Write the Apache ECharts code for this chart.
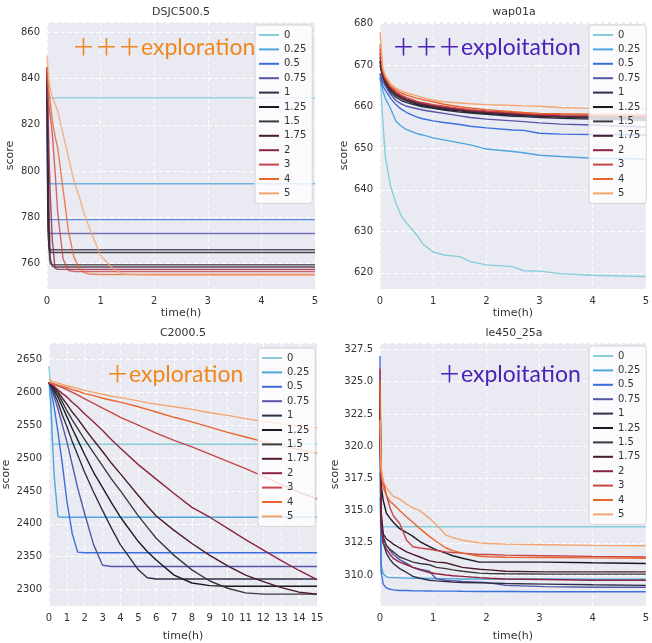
<!DOCTYPE html>
<html>
<head>
<meta charset="utf-8">
<script src="https://cdn.jsdelivr.net/npm/echarts@6/dist/echarts.min.js"></script>
<style>
  html, body { margin: 0; padding: 0; background: #fff; }
  #chart { width: 652px; height: 643px; }
</style>
</head>
<body>
<div id="chart"></div>
<script>
// legend labels (weight values)
var seriesNames = ['0', '0.25', '0.5', '0.75', '1', '1.25', '1.5', '1.75', '2', '3', '4', '5'];

// DSJC500.5
var dsjcTimes = [0, 0.01, 0.02, 0.04, 0.06, 0.1, 0.15, 0.2, 0.3, 0.4, 0.5, 0.6, 0.7, 0.8, 1.0, 1.2, 1.4, 1.6, 2, 3, 4, 5];
var dsjcScores = [
  [834, 832, 831.7, 831.7, 831.7, 831.7, 831.7, 831.7, 831.7, 831.7, 831.7, 831.7, 831.7, 831.7, 831.7, 831.7, 831.7, 831.7, 831.7, 831.7, 831.7, 831.7],
  [840, 815, 800, 794.5, 794.5, 794.5, 794.5, 794.5, 794.5, 794.5, 794.5, 794.5, 794.5, 794.5, 794.5, 794.5, 794.5, 794.5, 794.5, 794.5, 794.5, 794.5],
  [836, 800, 780, 779, 779, 779, 779, 779, 779, 779, 779, 779, 779, 779, 779, 779, 779, 779, 779, 779, 779, 779],
  [832, 790, 775, 773, 773, 773, 773, 773, 773, 773, 773, 773, 773, 773, 773, 773, 773, 773, 773, 773, 773, 773],
  [838, 800, 772, 767, 766, 766, 766, 766, 766, 766, 766, 766, 766, 766, 766, 766, 766, 766, 766, 766, 766, 766],
  [840, 810, 780, 766, 765, 764.8, 764.8, 764.8, 764.8, 764.8, 764.8, 764.8, 764.8, 764.8, 764.8, 764.8, 764.8, 764.8, 764.8, 764.8, 764.8, 764.8],
  [843, 820, 790, 765, 760, 759.5, 759.5, 759.5, 759.5, 759.5, 759.5, 759.5, 759.5, 759.5, 759.5, 759.5, 759.5, 759.5, 759.5, 759.5, 759.5, 759.5],
  [845, 830, 805, 780, 762, 758.8, 758.5, 758.5, 758.5, 758.5, 758.5, 758.5, 758.5, 758.5, 758.5, 758.5, 758.5, 758.5, 758.5, 758.5, 758.5, 758.5],
  [845, 835, 825, 805, 790, 770, 758, 757.5, 757.5, 757.5, 757.5, 757.5, 757.5, 757.5, 757.5, 757.5, 757.5, 757.5, 757.5, 757.5, 757.5, 757.5],
  [842, 838, 832, 828, 824, 816, 800, 782, 762, 757, 756.6, 756.6, 756.6, 756.6, 756.6, 756.6, 756.6, 756.6, 756.6, 756.6, 756.6, 756.6],
  [845, 842, 838, 834, 830, 822, 815, 810, 792, 774, 763, 758, 756, 755.5, 755.3, 755.3, 755.3, 755.3, 755.3, 755.3, 755.3, 755.3],
  [850, 847, 843, 839, 836, 832, 829, 826, 816, 806, 796, 789, 781, 775, 763.5, 758.5, 755.5, 755.2, 755, 755, 755, 755]
];

// wap01a
var wapTimes = [0, 0.05, 0.1, 0.2, 0.3, 0.4, 0.5, 0.7, 0.8, 1.0, 1.2, 1.5, 1.7, 2, 2.5, 2.7, 3, 3.4, 4, 5];
var wapScores = [
  [668, 657, 648, 640.8, 636.8, 633.7, 632, 629, 627, 625, 624.3, 623.9, 622.7, 621.9, 621.5, 620.5, 620.4, 619.8, 619.4, 619.1],
  [667, 664, 662, 659.5, 656.5, 655.3, 654.5, 653.5, 653.2, 652.5, 652, 651.3, 650.8, 649.8, 649.2, 648.9, 648.3, 648.0, 647.6, 647.4],
  [667, 665, 664, 662, 660.5, 659.4, 658.6, 657.5, 657.1, 656.6, 656.2, 655.7, 655.3, 654.9, 654.4, 654.3, 653.6, 653.4, 653.3, 653.2],
  [668, 666, 665, 663, 661.5, 660.7, 660.1, 659.5, 659.2, 658.8, 658.4, 657.8, 657.4, 657.0, 656.6, 656.4, 656.1, 655.8, 655.6, 655.1],
  [670, 667, 665.5, 663.5, 662.3, 661.5, 661.0, 660.3, 660.0, 659.6, 659.2, 658.7, 658.5, 658.2, 657.7, 657.6, 657.4, 657.2, 657.0, 656.7],
  [671, 667.5, 666, 664, 662.8, 662.0, 661.4, 660.6, 660.3, 659.8, 659.4, 659.0, 658.7, 658.4, 658.0, 657.9, 657.7, 657.5, 657.3, 657.0],
  [671, 667.5, 666, 664, 662.8, 662.0, 661.5, 660.8, 660.5, 660.0, 659.6, 659.2, 658.9, 658.6, 658.2, 658.0, 657.8, 657.6, 657.4, 657.2],
  [672, 668, 666.3, 664.3, 663.1, 662.3, 661.7, 661.0, 660.7, 660.2, 659.8, 659.3, 659.0, 658.7, 658.3, 658.1, 657.9, 657.7, 657.6, 657.4],
  [673, 668, 666.5, 664.5, 663.3, 662.5, 661.9, 661.1, 660.8, 660.3, 659.9, 659.4, 659.1, 658.8, 658.4, 658.2, 658.0, 657.8, 657.7, 657.6],
  [674, 668.5, 666.8, 664.8, 663.6, 662.8, 662.2, 661.3, 661.0, 660.5, 660.1, 659.6, 659.3, 659.0, 658.6, 658.4, 658.2, 658.1, 658.0, 657.9],
  [675, 669, 667, 665, 664, 663.3, 662.8, 662.0, 661.7, 661.2, 660.6, 660.0, 659.7, 659.3, 658.8, 658.6, 658.4, 658.3, 658.2, 658.1],
  [678, 669.5, 667.5, 665.5, 664.5, 663.8, 663.3, 662.6, 662.2, 661.6, 661.2, 660.9, 660.7, 660.5, 660.3, 660.2, 660.1, 659.8, 659.6, 659.5]
];

// C2000.5
var c2000Times = [0, 0.1, 0.2, 0.3, 0.5, 0.75, 1, 1.3, 1.6, 2, 2.5, 3, 3.5, 4, 5, 5.5, 6, 7, 8, 9, 10, 11, 12, 13, 14, 15];
var c2000Scores = [
  [2640, 2600, 2521, 2521, 2521, 2521, 2521, 2521, 2521, 2521, 2521, 2521, 2521, 2521, 2521, 2521, 2521, 2521, 2521, 2521, 2521, 2521, 2521, 2521, 2521, 2521],
  [2615, 2580, 2520, 2470, 2411, 2410, 2410, 2410, 2410, 2410, 2410, 2410, 2410, 2410, 2410, 2410, 2410, 2410, 2410, 2410, 2410, 2410, 2410, 2410, 2410, 2410],
  [2615, 2605, 2590, 2575, 2540, 2490, 2435, 2385, 2357, 2356, 2356, 2356, 2356, 2356, 2356, 2356, 2356, 2356, 2356, 2356, 2356, 2356, 2356, 2356, 2356, 2356],
  [2615, 2608, 2600, 2592, 2575, 2550, 2525, 2490, 2455, 2415, 2368, 2337, 2335, 2335, 2335, 2335, 2335, 2335, 2335, 2335, 2335, 2335, 2335, 2335, 2335, 2335],
  [2615, 2610, 2604, 2598, 2585, 2565, 2548, 2525, 2505, 2478, 2448, 2420, 2393, 2368, 2330, 2318, 2316, 2316, 2316, 2316, 2316, 2316, 2316, 2316, 2316, 2316],
  [2615, 2611, 2607, 2603, 2593, 2578, 2563, 2545, 2528, 2505, 2478, 2455, 2432, 2410, 2373, 2358, 2345, 2322, 2310, 2306, 2305, 2305, 2305, 2305, 2305, 2305],
  [2615, 2612, 2609, 2606, 2598, 2585, 2572, 2558, 2545, 2528, 2508, 2488, 2468, 2450, 2412, 2395, 2378, 2352, 2330, 2313, 2302, 2295, 2293, 2293, 2293, 2293],
  [2615, 2613, 2610, 2607, 2601, 2591, 2582, 2570, 2560, 2545, 2527, 2510, 2492, 2476, 2443, 2427, 2412, 2390, 2370, 2352, 2336, 2322, 2312, 2303, 2296, 2293],
  [2615, 2613, 2611, 2609, 2604, 2598, 2593, 2585, 2578, 2567, 2555, 2542, 2528, 2515, 2490, 2479, 2468, 2446, 2425, 2410, 2393, 2376, 2360, 2344, 2329, 2315],
  [2615, 2614, 2613, 2612, 2610, 2607, 2604, 2600, 2596, 2590, 2583, 2576, 2569, 2562, 2550, 2544, 2538, 2527, 2517, 2506, 2495, 2484, 2472, 2460, 2448, 2438],
  [2615, 2614, 2613, 2612, 2611, 2609, 2607, 2604, 2602, 2598, 2595, 2591, 2588, 2585, 2578, 2574, 2570, 2562, 2555, 2547, 2539, 2532, 2525, 2519, 2513, 2507],
  [2620, 2618, 2616, 2615, 2614, 2612, 2610, 2608, 2606, 2603, 2600, 2597, 2594, 2592, 2587, 2584, 2582, 2578, 2574, 2569, 2565, 2560, 2556, 2552, 2549, 2546]
];

// le450_25a
var leTimes = [0, 0.02, 0.06, 0.12, 0.19, 0.25, 0.37, 0.5, 0.62, 0.75, 0.93, 1.06, 1.24, 1.37, 1.55, 1.87, 2.05, 2.36, 3.1, 4, 5];
var leScores = [
  [316, 313.75, 313.75, 313.75, 313.75, 313.75, 313.75, 313.75, 313.75, 313.75, 313.75, 313.75, 313.75, 313.75, 313.75, 313.75, 313.75, 313.75, 313.75, 313.75, 313.75],
  [318, 310.8, 310.1, 309.86, 309.8, 309.8, 309.78, 309.76, 309.75, 309.75, 309.74, 309.73, 309.72, 309.72, 309.7, 309.7, 309.7, 309.7, 309.7, 309.68, 309.68],
  [327, 310.3, 309.3, 309.0, 308.9, 308.85, 308.8, 308.8, 308.78, 308.77, 308.76, 308.75, 308.75, 308.75, 308.74, 308.73, 308.72, 308.72, 308.7, 308.7, 308.7],
  [326, 314.5, 313.0, 312.3, 311.9, 311.6, 311.2, 310.9, 310.6, 310.45, 310.3, 309.7, 309.6, 309.56, 309.5, 309.45, 309.4, 309.2, 309.1, 309.05, 309.05],
  [325, 314, 312.5, 311.7, 311.2, 310.9, 310.5, 310.2, 309.9, 309.75, 309.6, 309.55, 309.5, 309.45, 309.42, 309.4, 309.38, 309.35, 309.3, 309.25, 309.2],
  [324, 317, 315.8, 314.8, 314.4, 314.1, 313.6, 313.3, 313.0, 312.6, 312.2, 311.95, 311.7, 311.5, 311.3, 311.0, 311.0, 311.0, 311.0, 310.95, 310.9],
  [323, 314.5, 312.9, 312.3, 312.0, 311.8, 311.4, 311.2, 311.0, 310.9, 310.8, 310.6, 310.5, 310.4, 310.3, 310.15, 310.12, 310.1, 310.07, 310.07, 310.07],
  [323, 315, 313.2, 312.8, 312.6, 312.4, 312.1, 311.8, 311.6, 311.4, 311.1, 311.0, 310.95, 310.8, 310.6, 310.45, 310.4, 310.3, 310.25, 310.25, 310.25],
  [322, 314, 312.5, 312.0, 311.6, 311.3, 311.0, 310.8, 310.6, 310.4, 310.2, 310.1, 310.0, 309.95, 309.9, 309.8, 309.75, 309.7, 309.65, 309.6, 309.6],
  [326, 318, 317.3, 316.2, 315.2, 314.6, 314.0, 312.7, 312.2, 312.1, 312.0, 311.9, 311.8, 311.75, 311.7, 311.6, 311.6, 311.55, 311.5, 311.45, 311.4],
  [325, 318, 316.8, 316.2, 315.7, 315.5, 315.0, 314.5, 314.1, 313.6, 313.0, 312.6, 312.1, 311.9, 311.7, 311.46, 311.42, 311.38, 311.36, 311.33, 311.3],
  [322, 318.5, 317.3, 316.8, 316.4, 316.1, 315.9, 315.5, 315.2, 315.0, 314.4, 313.9, 313.1, 312.9, 312.7, 312.5, 312.45, 312.4, 312.35, 312.3, 312.27]
];

// icefire-like palette, one colour per weight
var palette = ['#86cfd9', '#4fa6de', '#3a6fdc', '#5655a8', '#2f2f4a', '#1a1a22',
               '#3c3a40', '#4a1a2c', '#8c2440', '#c8454a', '#e8652e', '#f5a46e'];

var panels = [
  { title: 'DSJC500.5', times: dsjcTimes, scores: dsjcScores,
    grid: { left: 47, top: 22, width: 268, height: 267 },
    yMin: 749, yMax: 864.5, yStep: 20, yDigits: 0, xMax: 5, yGap: 31, xGap: 19,
    legend: { left: 255, top: 25 }, opacity: 0.8,
    note: '＋＋＋exploration', noteColor: '#f0861e', noteX: 72, noteY: 48 },
  { title: 'wap01a', times: wapTimes, scores: wapScores,
    grid: { left: 380, top: 22, width: 268, height: 267 },
    yMin: 616.1, yMax: 680.4, yStep: 10, yDigits: 0, xMax: 5, yGap: 29, xGap: 19,
    legend: { left: 589, top: 25 }, opacity: 1,
    note: '＋＋＋exploitation', noteColor: '#4a22b8', noteX: 392, noteY: 48 },
  { title: 'C2000.5', times: c2000Times, scores: c2000Scores,
    grid: { left: 49, top: 343, width: 268, height: 268 },
    yMin: 2275, yMax: 2675, yStep: 50, yDigits: 0, xMax: 15, yGap: 37, xGap: 25,
    legend: { left: 258, top: 348 }, opacity: 1,
    note: '＋exploration', noteColor: '#f0861e', noteX: 106, noteY: 375 },
  { title: 'le450_25a', times: leTimes, scores: leScores,
    grid: { left: 380, top: 343, width: 268, height: 268 },
    yMin: 307.6, yMax: 328.0, yStep: 2.5, yDigits: 1, xMax: 5, yGap: 38, xGap: 25,
    legend: { left: 589, top: 346 }, opacity: 1,
    note: '＋exploitation', noteColor: '#4a22b8', noteX: 438, noteY: 375 }
];

var tickFont = { color: '#333', fontSize: 10, fontFamily: 'DejaVu Sans' };
var grids = [], xAxes = [], yAxes = [], series = [], legends = [], graphics = [];

panels.forEach(function (p, i) {
  grids.push({ left: p.grid.left, top: p.grid.top, width: p.grid.width, height: p.grid.height,
    show: true, backgroundColor: '#eaeaf2', borderWidth: 0 });
  xAxes.push({
    type: 'value', gridIndex: i, min: 0, max: p.xMax, interval: 1,
    name: 'time(h)', nameLocation: 'middle', nameGap: p.xGap,
    nameTextStyle: { color: '#333', fontSize: 11, fontFamily: 'DejaVu Sans' },
    axisLine: { show: false }, axisTick: { show: false },
    axisLabel: Object.assign({ margin: 7 }, tickFont),
    splitLine: { show: true, lineStyle: { color: '#fff', type: [4, 3], width: 1 } }
  });
  yAxes.push({
    type: 'value', gridIndex: i, min: p.yMin, max: p.yMax,
    minInterval: p.yStep, maxInterval: p.yStep, splitNumber: 8,
    name: 'score', nameLocation: 'middle', nameGap: p.yGap,
    nameTextStyle: { color: '#333', fontSize: 11, fontFamily: 'DejaVu Sans' },
    axisLine: { show: false }, axisTick: { show: false },
    axisLabel: Object.assign({
      margin: 7, showMinLabel: false, showMaxLabel: false,
      formatter: function (v) { return v.toFixed(p.yDigits); }
    }, tickFont),
    splitLine: { show: true, lineStyle: { color: '#fff', type: [4, 3], width: 1 } }
  });
  seriesNames.forEach(function (name, k) {
    series.push({
      type: 'line', name: name, xAxisIndex: i, yAxisIndex: i,
      symbol: 'none', showSymbol: false, animation: false,
      color: palette[k],
      lineStyle: { width: 1.4, opacity: p.opacity },
      data: p.times.map(function (t, j) { return [t, p.scores[k][j]]; })
    });
  });
  legends.push({
    data: seriesNames, orient: 'vertical', left: p.legend.left, top: p.legend.top,
    icon: 'rect', itemWidth: 20, itemHeight: 2, itemGap: 2.4,
    padding: [4, 6, 4, 4],
    backgroundColor: 'rgba(255,255,255,0.8)', borderColor: '#d5d5d5', borderWidth: 1, borderRadius: 3,
    textStyle: { color: '#333', fontSize: 10, lineHeight: 12, fontFamily: 'DejaVu Sans' }
  });
  graphics.push({
    type: 'text', x: p.grid.left + p.grid.width / 2, y: p.grid.top - 10,
    style: { text: p.title, align: 'center', verticalAlign: 'middle',
      font: '11px "DejaVu Sans"', fill: '#333' }
  });
  graphics.push({
    type: 'text', x: p.noteX, y: p.noteY, z: 100,
    style: { text: p.note, align: 'left', verticalAlign: 'middle',
      font: '23px Lato, "Noto Sans CJK SC"', fill: p.noteColor }
  });
});

var chart = echarts.init(document.getElementById('chart'));
chart.setOption({
  animation: false,
  backgroundColor: '#fff',
  grid: grids, xAxis: xAxes, yAxis: yAxes,
  legend: legends, series: series, graphic: graphics
});
</script>
</body>
</html>
